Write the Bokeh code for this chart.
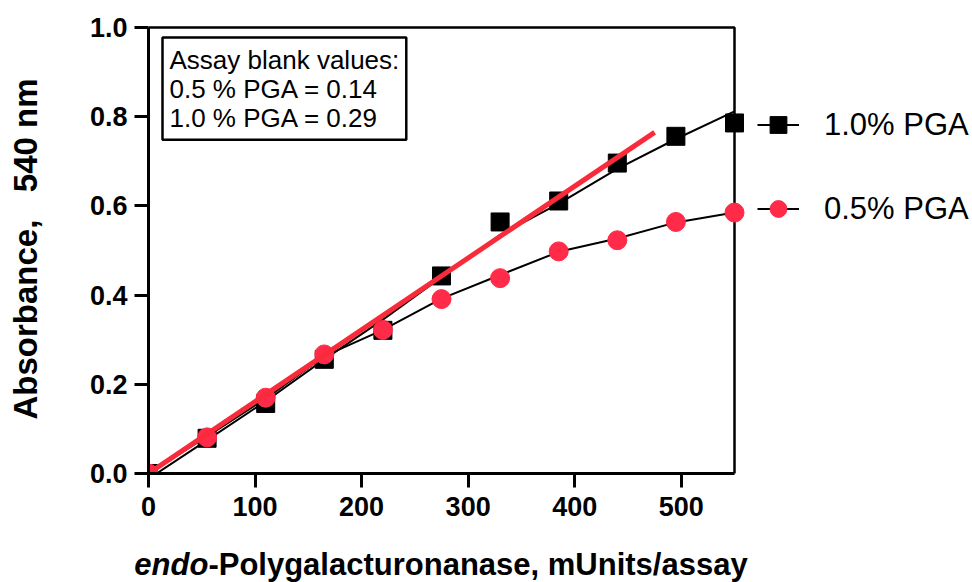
from bokeh.plotting import figure
from bokeh.models import (Range1d, Legend, LegendItem, Label, FixedTicker, PrintfTickFormatter,
                          Div, BoxAnnotation)
from bokeh.layouts import column
from bokeh.embed import file_html
from bokeh.resources import INLINE

# ---- data ----
x_units = [0, 55, 110, 165, 220, 275, 330, 385, 440, 495, 550]
pga10 = [0.0, 0.079, 0.157, 0.256, 0.321, 0.443, 0.564, 0.611, 0.696, 0.756, 0.786]
pga05 = [0.0, 0.081, 0.170, 0.267, 0.322, 0.391, 0.438, 0.498, 0.523, 0.564, 0.585]
fit10 = [-0.012, 0.075, 0.162, 0.256, 0.345, 0.440, 0.535, 0.605, 0.683, 0.750, 0.812]
fit05 = [0.0, 0.083, 0.168, 0.263, 0.322, 0.392, 0.445, 0.497, 0.527, 0.563, 0.585]
red_x = [0, 475]
red_y = [0.0, 0.765]
x_ticks = [0, 100, 200, 300, 400, 500]
y_ticks = [0.0, 0.2, 0.4, 0.6, 0.8, 1.0]
x_axis_max = 550
y_axis_max = 1.0
series_labels = ["1.0% PGA", "0.5% PGA"]
note_text = "Assay blank values:\n0.5 % PGA = 0.14\n1.0 % PGA = 0.29"
y_title = "Absorbance,\u00a0\u00a0 540 nm"
x_title_italic = "endo"
x_title_rest = "-Polygalacturonanase, mUnits/assay"

RED = "#FF2B48"
RED_LINE = "#F92A3A"
FONT = "Liberation Sans"

# layout: axes box is 586 x 446 px; the frame is widened to the right to hold the legend
AX_W, AX_H = 586, 446
LEFT, TOP, BOTTOM, RIGHT = 148, 24, 75, 2
FIG_W, FIG_H = 972, 548
frame_w = FIG_W - LEFT - RIGHT
frame_h = FIG_H - TOP - BOTTOM
x_end = x_axis_max * frame_w / AX_W
y_end = y_axis_max * frame_h / AX_H

p = figure(width=FIG_W, height=FIG_H, x_range=Range1d(0, x_end), y_range=Range1d(0, y_end),
           output_backend="svg", toolbar_location=None,
           min_border_left=LEFT, min_border_right=RIGHT, min_border_top=TOP,
           min_border_bottom=BOTTOM)
p.grid.visible = False
p.background_fill_color = "white"
p.border_fill_color = "white"
p.outline_line_color = None

for ax in (p.xaxis[0], p.yaxis[0]):
    ax.axis_line_width = 3
    ax.axis_line_color = "black"
    ax.major_tick_line_width = 3
    ax.major_tick_line_color = "black"
    ax.major_tick_out = 14
    ax.major_tick_in = 0
    ax.minor_tick_line_color = None
    ax.major_label_text_font = FONT
    ax.major_label_text_font_style = "bold"
    ax.major_label_text_font_size = "27px"
    ax.major_label_text_color = "black"

p.xaxis.bounds = (0, x_axis_max)
p.yaxis.bounds = (0, y_axis_max)
p.xaxis.major_label_standoff = 9
p.yaxis.major_label_standoff = 7
p.xaxis.ticker = FixedTicker(ticks=x_ticks)
p.yaxis.ticker = FixedTicker(ticks=y_ticks)
p.yaxis.formatter = PrintfTickFormatter(format="%.1f")

p.yaxis.axis_label = y_title
p.yaxis.axis_label_text_font = FONT
p.yaxis.axis_label_text_font_style = "bold"
p.yaxis.axis_label_text_font_size = "33px"
p.yaxis.axis_label_text_color = "black"
p.yaxis.axis_label_standoff = 43

# axes box (top and right border)
p.add_layout(BoxAnnotation(left=0, right=x_axis_max, bottom=0, top=y_axis_max,
                           fill_alpha=0, line_color="black", line_alpha=1.0, line_width=2.5,
                           level="underlay"))

# fitted curves (black)
l10 = p.line(x_units, fit10, line_color="black", line_width=2)
l05 = p.line(x_units, fit05, line_color="black", line_width=2)
# data points
s10 = p.scatter(x_units, pga10, marker="square", size=18, fill_color="black", line_color="black")
c05 = p.scatter(x_units, pga05, marker="circle", size=19, fill_color=RED, line_color=RED)
# straight red line
p.line(red_x, red_y, line_color=RED_LINE, line_width=5)

legend = Legend(items=[LegendItem(label=series_labels[0], renderers=[l10, s10]),
                       LegendItem(label=series_labels[1], renderers=[l05, c05])],
                location=(609, 242), orientation="vertical")
legend.glyph_width = 42
legend.glyph_height = 45
legend.spacing = 39
legend.padding = 0
legend.margin = 0
legend.border_line_color = None
legend.background_fill_alpha = 0
legend.label_standoff = 25
legend.label_text_font = FONT
legend.label_text_font_size = "31px"
legend.label_text_color = "black"
p.add_layout(legend, "center")

note = Label(x=14, y=AX_H - 10, x_units="screen", y_units="screen", text=note_text,
             anchor="top_left", text_font=FONT, text_font_size="26px", text_color="black",
             text_line_height=0.97, padding=7,
             border_line_color="black", border_line_width=2.5,
             background_fill_color="white")
p.add_layout(note)

title_html = ('<div style="width:882px;text-align:center;font-family:\'Liberation Sans\',Arial,sans-serif;'
              'font-weight:bold;font-size:31px;line-height:34px;color:black;white-space:nowrap;">'
              '<i>%s</i>%s</div>' % (x_title_italic, x_title_rest))
xdiv = Div(text=title_html, width=882, height=34, margin=(0, 0, 0, 0))

layout = column(p, xdiv, spacing=0)
open("out.html", "w").write(file_html(layout, INLINE))
